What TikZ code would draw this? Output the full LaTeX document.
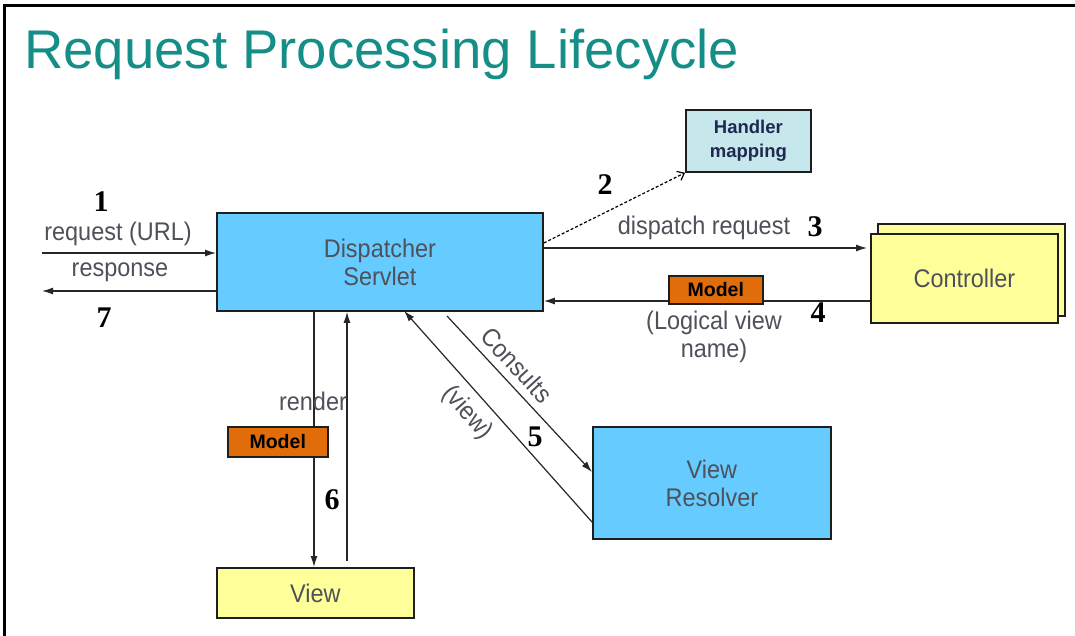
\documentclass[tikz,border=0pt]{standalone}
\usepackage{fontspec}
\setmainfont{Liberation Sans}
\newfontfamily\condsans[FakeStretch=0.92]{Liberation Sans}
\newfontfamily\numserif{Liberation Serif}
\usetikzlibrary{arrows.meta,calc}
\definecolor{titleteal}{RGB}{20,142,134}
\definecolor{labelgray}{RGB}{78,80,90}
\definecolor{boxline}{RGB}{30,30,30}
\definecolor{dsblue}{RGB}{102,204,255}
\definecolor{hmcyan}{RGB}{198,231,236}
\definecolor{softyellow}{RGB}{255,255,153}
\definecolor{modelorange}{RGB}{224,108,10}
\definecolor{hmtext}{RGB}{30,40,80}
\newcommand\lblf{\condsans\fontsize{25.5}{28}\selectfont}
\newcommand\numf{\numserif\bfseries\fontsize{30}{31}\selectfont}
\begin{document}
\begin{tikzpicture}[x=1pt,y=-1pt,
  box/.style={draw=boxline, line width=1.8pt, inner sep=0pt, align=center, anchor=north west, text=labelgray, font=\lblf},
  modelbox/.style={draw=boxline, line width=1.5pt, fill=modelorange, inner sep=0pt, anchor=north west, font=\bfseries\fontsize{19.5}{20}\selectfont, text=black},
  lbl/.style={font=\lblf, text=labelgray, inner sep=0pt, align=center},
  num/.style={font=\numf, inner sep=0pt, text=black},
  arr/.style={line width=1.3pt, draw=black!85, -{Latex[length=11pt,width=7pt]}}
]
\useasboundingbox (0,0) rectangle (1075,636);
% frame
\draw[line width=3pt, black] (4.5,636) -- (4.5,6) -- (1075,6);
% title
\node[anchor=base west, inner sep=0pt, text=titleteal, font=\fontsize{54.5}{60}\selectfont] (title) at (24,69) {Request Processing Lifecycle};

% main boxes
\node[box, fill=dsblue, minimum width=326pt, minimum height=98pt] (ds) at (216,212) {Dispatcher\\Servlet};
\node[box, fill=hmcyan, minimum width=125pt, minimum height=62pt, text=hmtext, font=\bfseries\fontsize{18.5}{24}\selectfont] (hm) at (685,109) {Handler\\mapping};
\node[box, fill=softyellow, minimum width=187pt, minimum height=92pt] (ctrlback) at (877,223) {};
\node[box, fill=softyellow, minimum width=187pt, minimum height=89pt] (ctrl) at (870,233) {Controller};
\node[box, fill=dsblue, minimum width=238pt, minimum height=112pt] (vr) at (592,426) {View\\Resolver};
\node[box, fill=softyellow, minimum width=197pt, minimum height=50pt] (view) at (216,567) {View};

% free ends
\coordinate (reqS) at (42,253);
\coordinate (resE) at (42,291);

% connectors
\draw[arr] (reqS) -- (reqS -| ds.west);
\draw[arr] ([xshift=2pt]resE -| ds.west) -- (resE);
\draw[line width=1.2pt, densely dashed, -{Straight Barb[length=6pt,width=10pt]}] ([yshift=-31pt]ds.north east) -- (hm.south west);
\draw[arr, shorten >=3pt] ([yshift=-36pt]ds.north east) -- ([yshift=-15pt]ctrl.north west);
\draw[arr] ([yshift=-68pt]ctrl.north west) -- ([yshift=-68pt]ctrl.north west -| ds.east);
\draw[arr] ([xshift=98pt]ds.south west) -- ([xshift=98pt]view.north west);
\draw[arr] ([xshift=131pt,yshift=6pt]view.north west) -- ([xshift=131pt]view.north west |- ds.south);
\draw[arr, line width=1.2pt] (447,316) -- ([yshift=-46pt]vr.north west);
\draw[arr, line width=1.2pt] ([yshift=-96pt]vr.north west) -- ([xshift=188pt,yshift=1pt]ds.south west);

% model boxes over lines
\node[modelbox, minimum width=94pt, minimum height=28pt] (m1) at (668,275) {Model};
\node[modelbox, minimum width=100pt, minimum height=30pt] (m2) at (227,426) {Model};

% labels
\node[lbl] (lreq) at (118,234) {request (URL)};
\node[lbl] (lres) at (120,272) {response};
\node[lbl] (ldisp) at (704,228) {dispatch request};
\node[lbl] (llog) at (714,337) {(Logical view\\name)};
\node[lbl] (lren) at (313,401) {render};
\node[lbl, rotate=-47.5] (lcons) at (517,365) {Consults};
\node[lbl, rotate=-48] (lview) at (467,413) {(view)};

% numbers
\node[num] (n1) at (101,202) {1};
\node[num] (n7) at (104,318) {7};
\node[num] (n2) at (605,185) {2};
\node[num] (n3) at (815,227) {3};
\node[num] (n4) at (818,313) {4};
\node[num] (n5) at (535,437) {5};
\node[num] (n6) at (332,500) {6};
\end{tikzpicture}
\end{document}
